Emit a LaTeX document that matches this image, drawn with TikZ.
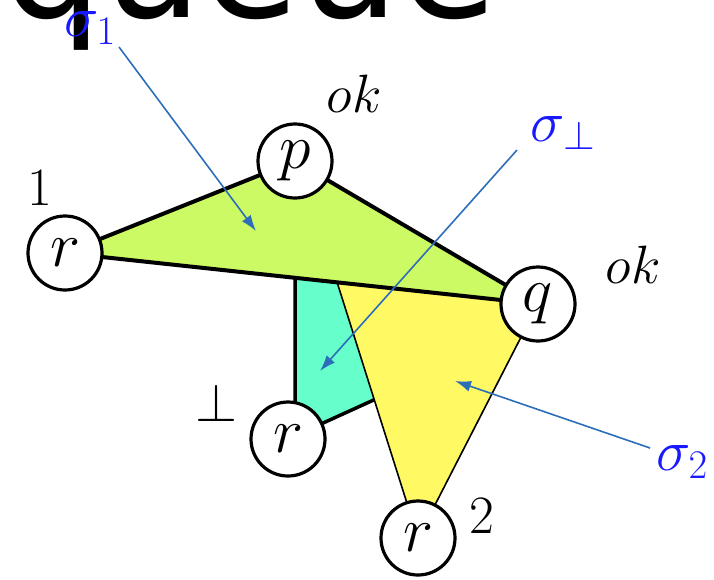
\RequirePackage{fix-cm}
\documentclass[tikz,border=0pt]{standalone}
\usepackage{fontspec}
\newfontfamily\bigsans{DejaVu Sans}
\usetikzlibrary{arrows.meta,backgrounds}
\definecolor{lgreen}{RGB}{204,250,100}
\definecolor{teal2}{RGB}{102,255,204}
\definecolor{yell}{RGB}{255,249,100}
\definecolor{arrblue}{RGB}{45,110,185}
\definecolor{lblblue}{RGB}{25,25,255}
\tikzset{
  state/.style={circle, draw, line width=3.2pt, fill=white, minimum size=74pt, inner sep=0pt, font=\fontsize{64}{70}\selectfont},
  lbl/.style={inner sep=0pt, font=\fontsize{54}{60}\selectfont},
  sig/.style={inner sep=0pt, text=lblblue, font=\fontsize{58}{64}\selectfont},
  ptr/.style={draw=arrblue, line width=1.6pt, -{Latex[length=16pt,width=11pt]}},
  poly/.style={draw=black, line join=round}
}
\begin{document}
\begin{tikzpicture}[x=1pt,y=-1pt]
\useasboundingbox (0,0) rectangle (714,579);
% big cut-off word
\node[anchor=base west, inner sep=0pt, font=\bigsans\fontsize{158}{160}\selectfont] (word) at (2,17) {queue};
% states
\node[state] (r1) at (65,253) {$r$};
\node[state] (p) at (295,161) {$p$};
\node[state] (q) at (538,304) {$q$};
\node[state] (rb) at (288,439) {$r$};
\node[state] (r2) at (418,538) {$r$};
% regions
\begin{scope}[on background layer]
  \coordinate (tA) at (295,277);
  \coordinate (tB) at (345,283);
  \coordinate (tC) at (378,398);
  \coordinate (tD) at (295,415);
  \coordinate (yA) at (337,282);
  \filldraw[poly, fill=teal2, line width=3.5pt] (tA) -- (tB) -- (tC) -- (rb.center) -- (tD) -- cycle;
  \filldraw[poly, fill=yell, line width=1.6pt] (yA) -- (q.center) -- (r2.center) -- cycle;
  \filldraw[poly, fill=lgreen, line width=4pt] (r1.center) -- (p.center) -- (q.center) -- cycle;
\end{scope}
% labels
\node[lbl] (l1) at (40,188) {1};
\node[lbl] (lok1) at (354,94) {$ok$};
\node[lbl] (lok2) at (633,265) {$ok$};
\node[lbl] (lbot) at (216,403) {$\perp$};
\node[lbl] (l2) at (482,516) {2};
% sigma labels
\node[sig] (s1) at (90,28) {$\sigma_1$};
\node[sig] (sb) at (563,133) {$\sigma_\perp$};
\node[sig] (s2) at (682,462) {$\sigma_2$};
% pointers
\coordinate (a1) at (119,47);
\coordinate (t1) at (256,231);
\coordinate (ab) at (517,150);
\coordinate (tb) at (320,371);
\coordinate (a2) at (650,448);
\coordinate (t2) at (455,381);
\draw[ptr] (a1) -- (t1);
\draw[ptr] (ab) -- (tb);
\draw[ptr] (a2) -- (t2);
\end{tikzpicture}
\end{document}
